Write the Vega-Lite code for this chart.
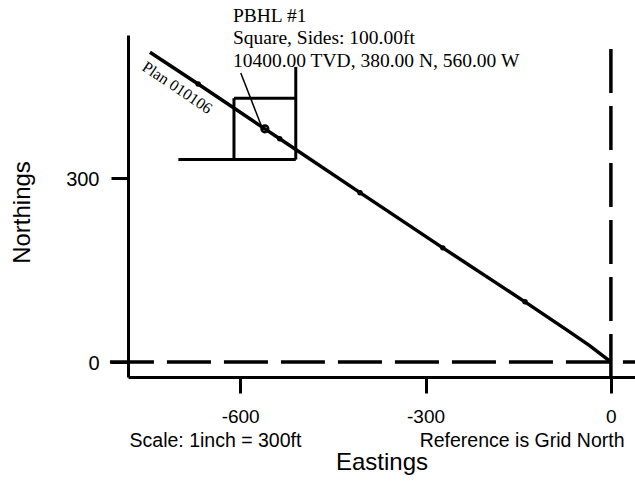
{
  "$schema": "https://vega.github.io/schema/vega-lite/v6.json",
  "width": 507,
  "height": 342,
  "autosize": {"type": "none"},
  "padding": {"left": 128, "top": 35, "right": 0, "bottom": 109},
  "background": "white",
  "config": {"view": {"stroke": null}, "font": "Liberation Sans"},
  "datasets": {
    "path": [
      {"i": 0, "E": 0, "N": 0},
      {"i": 1, "E": -35, "N": 27},
      {"i": 2, "E": -71, "N": 52},
      {"i": 3, "E": -139, "N": 98},
      {"i": 4, "E": -272, "N": 186},
      {"i": 5, "E": -406, "N": 276},
      {"i": 6, "E": -536, "N": 364},
      {"i": 7, "E": -560, "N": 380},
      {"i": 8, "E": -668, "N": 453},
      {"i": 9, "E": -746, "N": 505}
    ],
    "stations": [
      {"E": -139, "N": 98},
      {"E": -272, "N": 186},
      {"E": -406, "N": 276},
      {"E": -536, "N": 364},
      {"E": -668, "N": 453}
    ],
    "target": [{"E": -560, "N": 380}],
    "dash": [
      {"E": -810.7, "N": 0, "E2": 39, "N2": 0},
      {"E": 0, "N": 510, "E2": 0, "N2": -24.5}
    ],
    "square": [
      {"E": -700, "N": 330, "E2": -510, "N2": 330},
      {"E": -610, "N": 330, "E2": -610, "N2": 430},
      {"E": -610, "N": 430, "E2": -510, "N2": 430},
      {"E": -510, "N": 330, "E2": -510, "N2": 481}
    ],
    "leader": [{"E": -599, "N": 471, "E2": -565, "N2": 383}],
    "pbhl": [
      {"E": -611.7, "N": 554, "label": "PBHL #1"},
      {"E": -611.7, "N": 518, "label": "Square, Sides: 100.00ft"},
      {"E": -611.7, "N": 481, "label": "10400.00 TVD, 380.00 N, 560.00 W"}
    ],
    "plan": [{"E": -702, "N": 447, "label": "Plan 010106"}],
    "noteLeft": [{"E": -779, "N": -138, "label": "Scale: 1inch = 300ft"}],
    "noteRight": [{"E": 22, "N": -138, "label": "Reference is Grid North"}]
  },
  "layer": [
    {
      "data": {"name": "path"},
      "mark": {"type": "line", "color": "black", "strokeWidth": 3.5},
      "encoding": {
        "x": {
          "field": "E", "type": "quantitative",
          "scale": {"domain": [-781.5, 39], "nice": false, "zero": false},
          "axis": {
            "title": "Eastings", "values": [-600, -300, 0], "labelExpr": "datum.value + ''",
            "grid": false, "domainColor": "black", "domainWidth": 3,
            "tickColor": "black", "tickWidth": 3, "tickSize": 16,
            "labelFont": "Liberation Sans", "labelFontSize": 19, "labelColor": "black",
            "labelPadding": 29, "labelBaseline": "alphabetic",
            "titleFont": "Liberation Sans", "titleFontSize": 24, "titleFontWeight": "normal",
            "titleColor": "black", "titleBaseline": "alphabetic", "titleY": 92
          }
        },
        "y": {
          "field": "N", "type": "quantitative",
          "scale": {"domain": [-24.5, 533], "nice": false, "zero": false},
          "axis": {
            "title": "Northings", "values": [0, 300], "labelExpr": "datum.value + ''",
            "grid": false, "domainColor": "black", "domainWidth": 3,
            "tickColor": "black", "tickWidth": 3, "tickSize": 17,
            "labelFont": "Liberation Sans", "labelFontSize": 20, "labelColor": "black",
            "labelPadding": 12, "labelBaseline": "middle", "labelOffset": 2,
            "titleFont": "Liberation Sans", "titleFontSize": 24, "titleFontWeight": "normal",
            "titleColor": "black", "titleBaseline": "alphabetic", "titleX": -99, "titleY": 177
          }
        },
        "order": {"field": "i", "type": "quantitative"}
      }
    },
    {
      "data": {"name": "dash"},
      "mark": {"type": "rule", "color": "black", "strokeWidth": 3.5, "strokeDash": [44, 13]},
      "encoding": {
        "x": {"field": "E", "type": "quantitative"},
        "x2": {"field": "E2"},
        "y": {"field": "N", "type": "quantitative"},
        "y2": {"field": "N2"}
      }
    },
    {
      "data": {"name": "square"},
      "mark": {"type": "rule", "color": "black", "strokeWidth": 3},
      "encoding": {
        "x": {"field": "E", "type": "quantitative"},
        "x2": {"field": "E2"},
        "y": {"field": "N", "type": "quantitative"},
        "y2": {"field": "N2"}
      }
    },
    {
      "data": {"name": "leader"},
      "mark": {"type": "rule", "color": "black", "strokeWidth": 1.5},
      "encoding": {
        "x": {"field": "E", "type": "quantitative"},
        "x2": {"field": "E2"},
        "y": {"field": "N", "type": "quantitative"},
        "y2": {"field": "N2"}
      }
    },
    {
      "data": {"name": "stations"},
      "mark": {"type": "point", "shape": "circle", "filled": true, "color": "black", "size": 30, "opacity": 1},
      "encoding": {
        "x": {"field": "E", "type": "quantitative"},
        "y": {"field": "N", "type": "quantitative"}
      }
    },
    {
      "data": {"name": "target"},
      "mark": {"type": "point", "shape": "circle", "filled": false, "color": "black", "size": 45, "strokeWidth": 2.5, "opacity": 1},
      "encoding": {
        "x": {"field": "E", "type": "quantitative"},
        "y": {"field": "N", "type": "quantitative"}
      }
    },
    {
      "data": {"name": "pbhl"},
      "mark": {"type": "text", "font": "Liberation Serif", "fontSize": 19.5, "align": "left", "baseline": "alphabetic", "color": "black"},
      "encoding": {
        "x": {"field": "E", "type": "quantitative"},
        "y": {"field": "N", "type": "quantitative"},
        "text": {"field": "label"}
      }
    },
    {
      "data": {"name": "plan"},
      "mark": {"type": "text", "font": "Liberation Serif", "fontSize": 16, "align": "center", "baseline": "middle", "angle": 34, "color": "black"},
      "encoding": {
        "x": {"field": "E", "type": "quantitative"},
        "y": {"field": "N", "type": "quantitative"},
        "text": {"field": "label"}
      }
    },
    {
      "data": {"name": "noteLeft"},
      "mark": {"type": "text", "font": "Liberation Sans", "fontSize": 19.5, "align": "left", "baseline": "alphabetic", "color": "black"},
      "encoding": {
        "x": {"field": "E", "type": "quantitative"},
        "y": {"field": "N", "type": "quantitative"},
        "text": {"field": "label"}
      }
    },
    {
      "data": {"name": "noteRight"},
      "mark": {"type": "text", "font": "Liberation Sans", "fontSize": 19.5, "align": "right", "baseline": "alphabetic", "color": "black"},
      "encoding": {
        "x": {"field": "E", "type": "quantitative"},
        "y": {"field": "N", "type": "quantitative"},
        "text": {"field": "label"}
      }
    }
  ]
}
